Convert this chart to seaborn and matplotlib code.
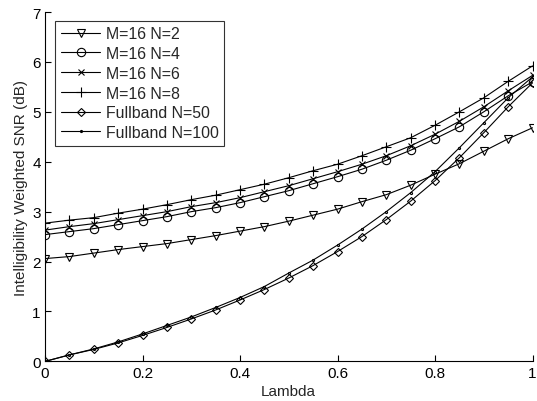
import numpy as np
import pandas as pd
import matplotlib
matplotlib.use("Agg")
import matplotlib.pyplot as plt
import seaborn as sns

# Lambda sweep
lam = [0.00, 0.05, 0.10, 0.15, 0.20, 0.25, 0.30, 0.35, 0.40, 0.45, 0.50,
       0.55, 0.60, 0.65, 0.70, 0.75, 0.80, 0.85, 0.90, 0.95, 1.00]

# Intelligibility weighted SNR (dB) per configuration
snr_m16_n2 = [2.06, 2.10, 2.17, 2.24, 2.30, 2.36, 2.44, 2.52, 2.61, 2.70, 2.81,
              2.93, 3.05, 3.20, 3.34, 3.53, 3.75, 3.96, 4.21, 4.46, 4.68]
snr_m16_n4 = [2.54, 2.60, 2.66, 2.74, 2.82, 2.90, 3.00, 3.08, 3.18, 3.30, 3.42,
              3.56, 3.70, 3.85, 4.03, 4.23, 4.46, 4.70, 5.00, 5.32, 5.60]
snr_m16_n6 = [2.63, 2.70, 2.76, 2.84, 2.92, 3.00, 3.10, 3.18, 3.28, 3.40, 3.52,
              3.66, 3.80, 3.95, 4.12, 4.32, 4.55, 4.81, 5.10, 5.42, 5.73]
snr_m16_n8 = [2.77, 2.83, 2.88, 2.97, 3.05, 3.14, 3.24, 3.33, 3.44, 3.55, 3.68,
              3.82, 3.95, 4.12, 4.30, 4.48, 4.73, 5.00, 5.28, 5.61, 5.92]
snr_full_n50 = [0.00, 0.13, 0.24, 0.37, 0.52, 0.68, 0.85, 1.03, 1.23, 1.44, 1.67,
                1.92, 2.20, 2.50, 2.84, 3.21, 3.62, 4.08, 4.58, 5.10, 5.58]
snr_full_n100 = [0.00, 0.13, 0.25, 0.39, 0.55, 0.72, 0.89, 1.08, 1.28, 1.50, 1.77,
                 2.03, 2.33, 2.65, 3.00, 3.38, 3.80, 4.28, 4.78, 5.28, 5.70]

labels = ["M=16 N=2", "M=16 N=4", "M=16 N=6", "M=16 N=8",
          "Fullband N=50", "Fullband N=100"]
series = [snr_m16_n2, snr_m16_n4, snr_m16_n6, snr_m16_n8,
          snr_full_n50, snr_full_n100]
markers = ["v", "o", "x", "+", "D", "."]
msizes = [6.0, 6.0, 5.0, 7.0, 4.5, 3.0]

x_ticks = [0, 0.2, 0.4, 0.6, 0.8, 1]
x_tick_labels = ["0", "0.2", "0.4", "0.6", "0.8", "1"]
y_ticks = [0, 1, 2, 3, 4, 5, 6, 7]

sns.set_style("white")
plt.rcParams["font.family"] = ["Liberation Sans", "DejaVu Sans"]

fig = plt.figure(figsize=(5.37, 4.02), dpi=100)
ax = fig.add_axes([45 / 537, 1 - 362.4 / 402, 487.5 / 537, 349.4 / 402])

frames = []
for lab, vals in zip(labels, series):
    frames.append(pd.DataFrame({"Lambda": lam, "SNR": vals, "config": lab}))
df = pd.concat(frames, ignore_index=True)

for lab, mk, ms in zip(labels, markers, msizes):
    sub = df[df["config"] == lab]
    sns.lineplot(data=sub, x="Lambda", y="SNR", ax=ax, color="black",
                 linewidth=0.8, marker=mk, markersize=ms,
                 markerfacecolor="none", markeredgecolor="black",
                 markeredgewidth=0.8, label=lab)

ax.set_xlim(0, 1)
ax.set_ylim(0, 7)
ax.set_xticks(x_ticks)
ax.set_xticklabels(x_tick_labels)
ax.set_yticks(y_ticks)
ax.tick_params(direction="in", length=4.3, width=0.8, labelsize=11,
               colors="black", pad=3)
for side in ["top", "right"]:
    ax.spines[side].set_visible(False)
for side in ["left", "bottom"]:
    ax.spines[side].set_color("black")
    ax.spines[side].set_linewidth(0.8)
ax.tick_params(axis="x", bottom=True)
ax.tick_params(axis="y", left=True)

ax.set_xlabel("Lambda", fontsize=11, labelpad=3.5)
ax.set_ylabel("Intelligibility Weighted SNR (dB)", fontsize=11, labelpad=3)

leg = ax.legend(loc="upper left", bbox_to_anchor=(0.021, 0.975),
                fontsize=11.4, frameon=True, fancybox=False,
                handlelength=2.5, handletextpad=0.35, labelspacing=0.3,
                borderpad=0.35, borderaxespad=0)
leg.get_frame().set_edgecolor("black")
leg.get_frame().set_linewidth(0.8)

fig.savefig("out.png", dpi=100)
